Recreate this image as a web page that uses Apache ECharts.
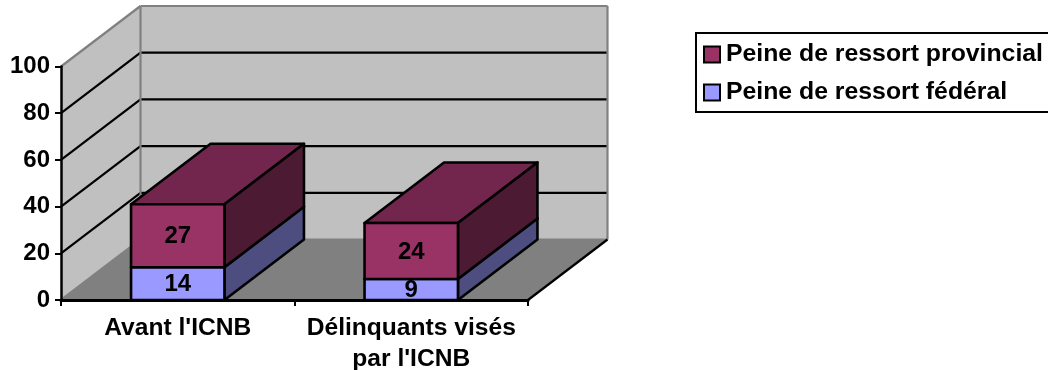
<!DOCTYPE html>
<html>
<head>
<meta charset="utf-8">
<style>html,body{margin:0;padding:0;background:#fff}#chart{width:1048px;height:370px}</style>
<script src="https://cdn.jsdelivr.net/npm/echarts@6/dist/echarts.min.js"></script>
</head>
<body>
<div id="chart"></div>
<script>
// Peines purgées avant et après l'ICNB, en barres empilées à effet 3D
const categories = ["Avant l'ICNB", "Délinquants visés\npar l'ICNB"];
const federal = [14, 9];
const provincial = [27, 24];
const yTicks = [20, 40, 60, 80, 100];

const DEPTH_X = 79.5;
const DEPTH_Y = -60.5;
const FONT = '"Liberation Sans", Arial, sans-serif';

const shift = (p) => [p[0] + DEPTH_X, p[1] + DEPTH_Y];
const line = (a, b, color, z2) => ({
  type: 'line', z2: z2 || 1,
  shape: { x1: a[0], y1: a[1], x2: b[0], y2: b[1] },
  style: { stroke: color, lineWidth: 2.2 }
});
const poly = (points, fill, stroke) => ({
  type: 'polygon',
  shape: { points },
  style: { fill, stroke: stroke || null, lineWidth: 2.6, lineJoin: 'round' }
});

// Murs, plancher et quadrillage de la boîte 3D
function renderBox(params, api) {
  const r = params.coordSys;
  const x0 = r.x, x1 = r.x + r.width;
  const y0 = api.coord([0, 0])[1];
  const y100 = api.coord([0, 100])[1];
  const a = [x0, y0], b = [x1, y0], c = [x0, y100], d = [x1, y100];
  const children = [
    poly([a, c, shift(c), shift(a)], '#C0C0C0'),
    poly([shift(a), shift(c), shift(d), shift(b)], '#C0C0C0'),
    poly([a, shift(a), shift(b), b], '#808080')
  ];
  yTicks.forEach((v) => {
    const y = api.coord([0, v])[1];
    if (v === 100) return;
    const p = [x0, y];
    children.push(line(p, shift(p), '#000'));
    children.push(line(shift(p), shift([x1, y]), '#000'));
  });
  children.push(line(a, shift(a), '#808080', 2));
  children.push(line(c, shift(c), '#808080', 2));
  children.push(line(shift(c), shift(d), '#808080', 2));
  children.push(line(shift(a), shift(c), '#808080', 2));
  children.push(line(shift(d), shift(b), '#808080', 2));
  children.push(line(shift(a), shift(b), '#808080', 2));
  children.push(line(b, shift(b), '#000', 3));
  return { type: 'group', children };
}

// Un segment de barre : face avant, côté, dessus et valeur
function renderSegment(colors) {
  return (params, api) => {
    const i = api.value(0), top = api.value(1), base = api.value(2);
    const center = api.coord([i, 0])[0];
    const half = api.size([1, 0])[0] * 0.2;
    const yb = api.coord([i, base])[1], yt = api.coord([i, top])[1];
    const fl = [center - half, yb], fr = [center + half, yb];
    const tl = [center - half, yt], tr = [center + half, yt];
    return {
      type: 'group',
      children: [
        poly([tl, shift(tl), shift(tr), tr], colors.top, '#000'),
        poly([fr, tr, shift(tr), shift(fr)], colors.side, '#000'),
        poly([fl, tl, tr, fr], colors.front, '#000'),
        {
          type: 'text', z2: 5,
          style: {
            x: center, y: (yb + yt) / 2 + 1,
            text: String(top - base),
            align: 'center', verticalAlign: 'middle',
            font: 'bold 24px ' + FONT, fill: '#000'
          }
        }
      ]
    };
  };
}

const chart = echarts.init(document.getElementById('chart'), null, { renderer: 'canvas' });
chart.setOption({
  animation: false,
  backgroundColor: '#fff',
  grid: { left: 61, right: 520, top: 66.5, bottom: 70, outerBoundsMode: 'none' },
  legend: {
    left: 696, top: 33, orient: 'vertical',
    data: ['Peine de ressort provincial', 'Peine de ressort fédéral'],
    itemWidth: 16, itemHeight: 16, itemGap: 13, padding: [9, 40, 7, 7],
    borderColor: '#000', borderWidth: 2, borderRadius: 0,
    selectedMode: false,
    itemStyle: { borderColor: '#000', borderWidth: 2 },
    textStyle: { color: '#000', fontFamily: FONT, fontWeight: 'bold', fontSize: 24.8, padding: [0, 0, 0, 1] },
    icon: 'rect'
  },
  xAxis: {
    type: 'category', data: categories, z: 6,
    axisLine: { lineStyle: { color: '#000', width: 3 } },
    axisTick: { show: true, length: 6, lineStyle: { color: '#000', width: 2 } },
    axisLabel: { color: '#000', fontFamily: FONT, fontWeight: 'bold', fontSize: 24.6, lineHeight: 31, margin: 13, interval: 0 },
    splitLine: { show: false }
  },
  yAxis: {
    type: 'value', min: 0, max: 100, interval: 20, z: 6,
    axisLine: { show: true, lineStyle: { color: '#000', width: 2.5 } },
    axisTick: { show: true, length: 6, lineStyle: { color: '#000', width: 2 } },
    axisLabel: { color: '#000', fontFamily: FONT, fontWeight: 'bold', fontSize: 24, margin: 11 },
    splitLine: { show: false }
  },
  series: [
    { type: 'custom', silent: true, z: 1, renderItem: renderBox, data: [[0, 0]], encode: { x: 0, y: 1 }, legendHoverLink: false },
    {
      type: 'custom', name: 'Peine de ressort fédéral', z: 2,
      itemStyle: { color: '#9999FF' },
      renderItem: renderSegment({ front: '#9999FF', side: '#4D4D80', top: '#73738F' }),
      data: federal.map((v, i) => [i, v, 0]),
      encode: { x: 0, y: 1 }
    },
    {
      type: 'custom', name: 'Peine de ressort provincial', z: 3,
      itemStyle: { color: '#993366' },
      renderItem: renderSegment({ front: '#993366', side: '#4D1A33', top: '#73264D' }),
      data: provincial.map((v, i) => [i, federal[i] + v, federal[i]]),
      encode: { x: 0, y: 1 }
    }
  ]
});
</script>
</body>
</html>
